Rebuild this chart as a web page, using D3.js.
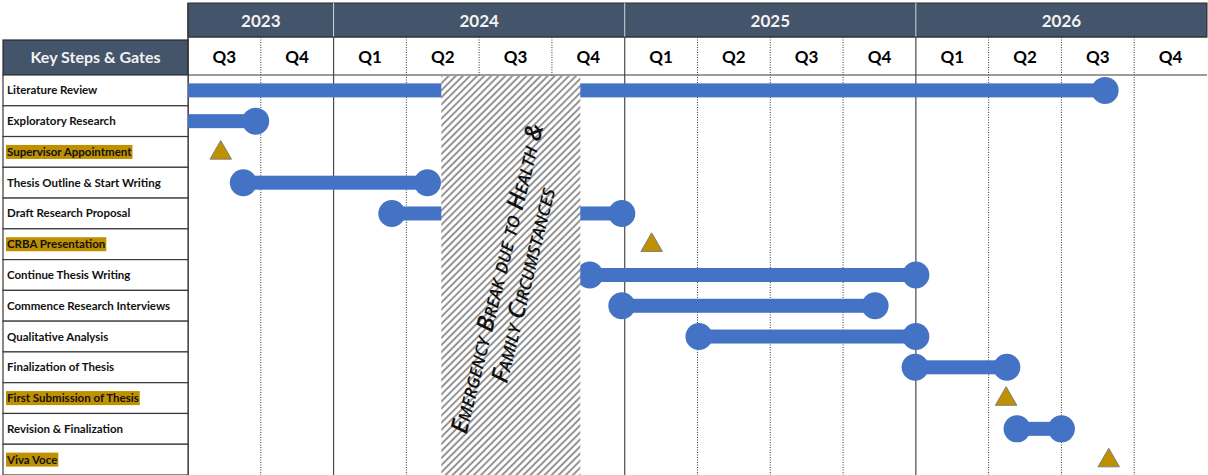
<!DOCTYPE html>
<html>
<head>
<meta charset="utf-8">
<script src="https://cdn.jsdelivr.net/npm/d3@7"></script>
<style>
	body { margin: 0; background: #ffffff; }
	svg { display: block; font-family: Lato, 'Open Sans', sans-serif; }
</style>
</head>
<body>
<svg id="chart-svg" width="1208" height="475"></svg>
<script>
// Timeline data, positions are in quarters from 2023 Q3 (0) to end of 2026 Q4 (14)
const years = ['2023', '2024', '2025', '2026'];
const yearQuarters = [2, 4, 4, 4];
const quarterLabels = ['Q3', 'Q4', 'Q1', 'Q2', 'Q3', 'Q4', 'Q1', 'Q2', 'Q3', 'Q4', 'Q1', 'Q2', 'Q3', 'Q4'];

const taskNames = [
	'Literature Review',
	'Exploratory Research',
	'Supervisor Appointment',
	'Thesis Outline & Start Writing',
	'Draft Research Proposal',
	'CRBA Presentation',
	'Continue Thesis Writing',
	'Commence Research Interviews',
	'Qualitative Analysis',
	'Finalization of Thesis',
	'First Submission of Thesis',
	'Revision & Finalization',
	'Viva Voce'
];
const isGate = [false, false, true, false, false, true, false, false, false, false, true, false, true];
const taskStart = [0, 0, null, 0.76, 2.8, null, 5.52, 5.96, 7.02, 9.99, null, 11.39, null];
const taskEnd = [12.6, 0.93, null, 3.29, 5.96, null, 10.0, 9.44, 10.0, 11.25, null, 12.0, null];
const gateAt = [null, null, 0.45, null, null, 6.37, null, null, null, null, 11.24, null, 12.65];

const breakStart = 3.48;
const breakEnd = 5.39;
const breakLines = ['Emergency Break due to Health &', 'Family Circumstances'];

const svg = d3.select('#chart-svg');
drawGantt(svg);

function drawGantt(svg) {
	const navy = '#44546a';
	const blue = '#4472c4';
	const gold = '#bf9000';
	const left = 188, right = 1207, labelLeft = 3;
	const yearTop = 3, quarterTop = 37, rowsTop = 75, bottom = 475;

	const x = d3.scaleLinear().domain([0, 14]).range([left, right]);
	const y = d3.scaleBand().domain(taskNames).range([rowsTop, bottom]);
	const rowMid = (name) => y(name) + y.bandwidth() / 2;

	// hatch pattern for the break
	let defs = svg.append('defs');
	let pattern = defs
		.append('pattern')
		.attr('id', 'hatch')
		.attr('patternUnits', 'userSpaceOnUse')
		.attr('width', 5)
		.attr('height', 5)
		.attr('patternTransform', 'rotate(45)');
	pattern.append('rect').attr('width', 5).attr('height', 5).attr('fill', '#ffffff');
	pattern.append('rect').attr('x', 0).attr('y', 0).attr('width', 2).attr('height', 5).attr('fill', '#959595');

	// year header
	let yearStarts = d3.cumsum([0].concat(yearQuarters)).slice(0, years.length);
	svg
		.append('rect')
		.attr('x', left)
		.attr('y', yearTop)
		.attr('width', right - left)
		.attr('height', quarterTop - yearTop)
		.attr('fill', navy)
		.attr('stroke', '#2b2b2b')
		.attr('stroke-width', 1);
	svg
		.selectAll('.year-text')
		.data(years)
		.enter()
		.append('text')
		.attr('class', 'year-text')
		.attr('x', (d, i) => x(yearStarts[i] + yearQuarters[i] / 2))
		.attr('y', 27)
		.attr('text-anchor', 'middle')
		.attr('fill', '#f2f2f2')
		.attr('font-size', 17)
		.attr('font-weight', 'bold')
		.text((d) => d);
	svg
		.selectAll('.year-sep')
		.data(yearStarts.slice(1))
		.enter()
		.append('line')
		.attr('x1', (d) => x(d))
		.attr('x2', (d) => x(d))
		.attr('y1', yearTop)
		.attr('y2', quarterTop)
		.attr('stroke', '#d0d5dc')
		.attr('stroke-width', 1);

	// quarter grid lines (dotted) and year lines (solid)
	let quarterIdx = d3.range(1, 14).filter((q) => !yearStarts.includes(q));
	svg
		.selectAll('.q-line')
		.data(quarterIdx)
		.enter()
		.append('line')
		.attr('x1', (d) => x(d))
		.attr('x2', (d) => x(d))
		.attr('y1', quarterTop)
		.attr('y2', bottom)
		.attr('stroke', '#3a3a3a')
		.attr('stroke-width', 1)
		.attr('stroke-dasharray', '1,1.5');
	svg
		.selectAll('.y-line')
		.data(yearStarts.slice(1))
		.enter()
		.append('line')
		.attr('x1', (d) => x(d))
		.attr('x2', (d) => x(d))
		.attr('y1', quarterTop)
		.attr('y2', bottom)
		.attr('stroke', '#4a4a4a')
		.attr('stroke-width', 1.2);

	svg
		.selectAll('.q-text')
		.data(quarterLabels)
		.enter()
		.append('text')
		.attr('x', (d, i) => x(i + 0.5))
		.attr('y', 63)
		.attr('text-anchor', 'middle')
		.attr('fill', '#000000')
		.attr('font-size', 17)
		.attr('font-weight', 'bold')
		.text((d) => d);

	svg.append('line').attr('x1', left).attr('x2', right).attr('y1', quarterTop).attr('y2', quarterTop).attr('stroke', '#3a3a3a');
	svg.append('line').attr('x1', labelLeft).attr('x2', right).attr('y1', rowsTop).attr('y2', rowsTop).attr('stroke', '#3a3a3a').attr('stroke-width', 1.2);
	svg.append('line').attr('x1', left).attr('x2', left).attr('y1', yearTop).attr('y2', bottom).attr('stroke', '#3a3a3a').attr('stroke-width', 1.5);

	// key steps header cell
	svg
		.append('rect')
		.attr('x', labelLeft)
		.attr('y', 40)
		.attr('width', left - labelLeft)
		.attr('height', rowsTop - 40)
		.attr('fill', navy)
		.attr('stroke', '#2b2b2b')
		.attr('stroke-width', 1.2);
	svg
		.append('text')
		.attr('x', (labelLeft + left) / 2)
		.attr('y', 63)
		.attr('text-anchor', 'middle')
		.attr('fill', '#f2f2f2')
		.attr('font-size', 16)
		.attr('font-weight', 'bold')
		.text('Key Steps & Gates');

	// task label rows
	let rowG = svg
		.selectAll('.row')
		.data(taskNames)
		.enter()
		.append('g')
		.attr('class', 'row')
		.attr('transform', (d) => 'translate(' + labelLeft + ',' + y(d) + ')');
	rowG
		.append('rect')
		.attr('width', left - labelLeft)
		.attr('height', y.bandwidth())
		.attr('fill', '#ffffff')
		.attr('stroke', '#3a3a3a')
		.attr('stroke-width', 1.2);
	let labels = rowG
		.append('text')
		.attr('x', 4)
		.attr('y', y.bandwidth() / 2 + 4)
		.attr('font-size', 11.5)
		.attr('font-weight', 'bold')
		.attr('fill', '#111111')
		.text((d) => d);
	// gold highlight behind gate labels
	labels.each(function (d, i) {
		if (!isGate[i]) return;
		let w = this.getComputedTextLength();
		d3.select(this.parentNode)
			.insert('rect', 'text')
			.attr('x', 3)
			.attr('y', y.bandwidth() / 2 - 7)
			.attr('width', w + 2)
			.attr('height', 14)
			.attr('fill', gold);
	});

	// bars
	let barRows = taskNames.map((name, i) => ({ name: name, start: taskStart[i], end: taskEnd[i] })).filter((d) => d.start !== null);
	svg
		.selectAll('.bar')
		.data(barRows)
		.enter()
		.append('rect')
		.attr('x', (d) => x(d.start))
		.attr('y', (d) => rowMid(d.name) - 7)
		.attr('width', (d) => x(d.end) - x(d.start))
		.attr('height', 14)
		.attr('fill', blue);
	let caps = [];
	barRows.forEach((d) => {
		if (d.start > 0) caps.push({ name: d.name, at: d.start });
		caps.push({ name: d.name, at: d.end });
	});
	svg
		.selectAll('.cap')
		.data(caps)
		.enter()
		.append('circle')
		.attr('cx', (d) => x(d.at))
		.attr('cy', (d) => rowMid(d.name))
		.attr('r', 13.5)
		.attr('fill', blue);

	// gates
	let gates = taskNames.map((name, i) => ({ name: name, at: gateAt[i] })).filter((d) => d.at !== null);
	svg
		.selectAll('.gate')
		.data(gates)
		.enter()
		.append('path')
		.attr('d', d3.symbol().type(d3.symbolTriangle).size(200))
		.attr('transform', (d) => 'translate(' + x(d.at) + ',' + (rowMid(d.name) + 1) + ')')
		.attr('fill', gold)
		.attr('stroke', '#7f7f7f')
		.attr('stroke-width', 1);

	// emergency break block
	svg
		.append('rect')
		.attr('x', x(breakStart))
		.attr('y', rowsTop + 1)
		.attr('width', x(breakEnd) - x(breakStart))
		.attr('height', bottom - rowsTop)
		.attr('fill', 'url(#hatch)');
	let cx = (x(breakStart) + x(breakEnd)) / 2;
	let breakText = svg
		.append('text')
		.attr('transform', 'translate(' + cx + ',282) rotate(-76)')
		.attr('text-anchor', 'middle')
		.attr('font-family', "'Open Sans', sans-serif")
		.attr('font-size', 24)
		.attr('font-weight', 600)
		.attr('font-style', 'italic')
		.attr('font-variant', 'small-caps')
		.attr('fill', '#111111');
	breakText
		.selectAll('tspan')
		.data(breakLines)
		.enter()
		.append('tspan')
		.attr('x', 0)
		.attr('y', (d, i) => -6 + i * 27)
		.text((d) => d);
}
</script>
</body>
</html>
